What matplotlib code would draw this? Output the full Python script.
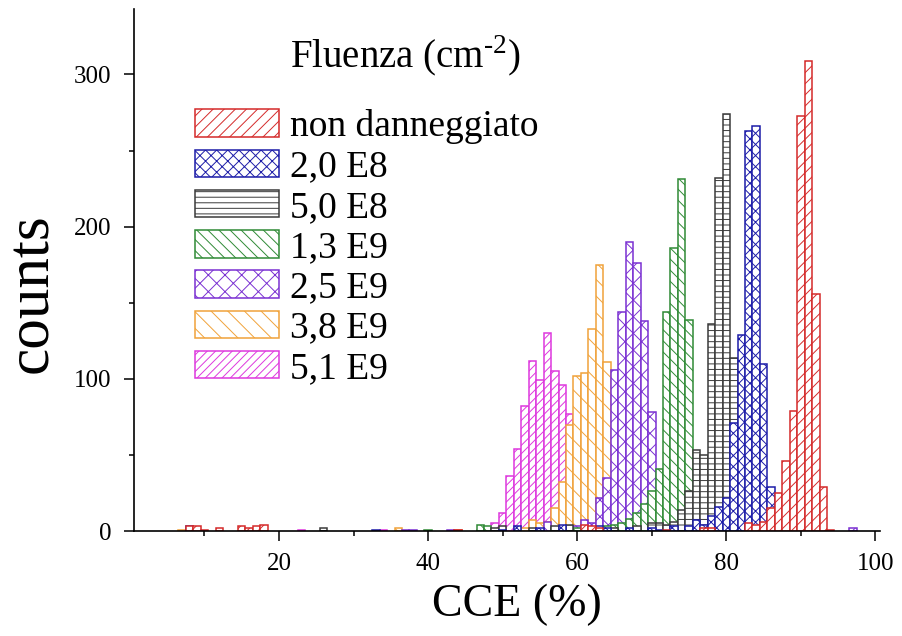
import matplotlib.pyplot as plt
from matplotlib.ticker import MultipleLocator

plt.rcParams['font.family'] = ['Liberation Serif', 'DejaVu Serif']
plt.rcParams['mathtext.fontset'] = 'custom'
plt.rcParams['mathtext.rm'] = 'Liberation Serif'
plt.rcParams['hatch.linewidth'] = 0.7

# conteggi per bin di 1% di CCE (centro bin -> conteggi)
non_danneggiato = {8: 3, 9: 3, 10: 1, 12: 2, 15: 3, 16: 2, 17: 3, 18: 4, 44: 1, 61: 4, 62: 3,
                   63: 2, 72: 1, 77: 2, 78: 2, 83: 5, 84: 4, 85: 6, 86: 15, 87: 25, 88: 46,
                   89: 79, 90: 273, 91: 309, 92: 156, 93: 29, 94: 1}
f_2_0e8 = {8: 3, 9: 1, 33: 1, 50: 1, 52: 3, 55: 2, 58: 4, 63: 3, 64: 2, 67: 2, 70: 2, 71: 1,
           73: 3, 75: 3, 76: 7, 77: 4, 78: 10, 79: 16, 80: 22, 81: 71, 82: 129, 83: 263,
           84: 266, 85: 110, 86: 29, 87: 3}
f_5_0e8 = {26: 2, 49: 2, 50: 3, 54: 2, 57: 3, 59: 4, 65: 2, 68: 3, 70: 5, 71: 5, 72: 4, 73: 6,
           74: 14, 75: 26, 76: 53, 77: 50, 78: 136, 79: 232, 80: 274, 81: 114, 82: 30, 83: 8,
           84: 2}
f_1_3e9 = {40: 1, 47: 4, 48: 3, 57: 2, 60: 2, 64: 3, 65: 4, 66: 5, 67: 8, 68: 12, 69: 18,
           70: 26, 71: 41, 72: 144, 73: 186, 74: 231, 75: 139, 76: 20, 77: 6, 78: 2}
f_2_5e9 = {37: 1, 38: 1, 43: 1, 56: 6, 58: 2, 60: 3, 61: 7, 62: 5, 63: 22, 64: 35, 65: 106,
           66: 144, 67: 190, 68: 176, 69: 138, 70: 78, 71: 3, 72: 4, 73: 3, 74: 1, 97: 2}
f_3_8e9 = {7: 1, 36: 2, 44: 1, 53: 2, 54: 7, 55: 5, 56: 6, 57: 15, 58: 32, 59: 70, 60: 102,
           61: 104, 62: 133, 63: 175, 64: 111, 65: 8, 66: 2}
f_5_1e9 = {23: 1, 34: 1, 44: 1, 47: 1, 48: 2, 49: 5, 50: 12, 51: 36, 52: 54, 53: 82, 54: 112,
           55: 99, 56: 130, 57: 105, 58: 96, 59: 77, 60: 30, 61: 6, 62: 2}

labels = ['non danneggiato', '2,0 E8', '5,0 E8', '1,3 E9', '2,5 E9', '3,8 E9', '5,1 E9']
series = [non_danneggiato, f_2_0e8, f_5_0e8, f_1_3e9, f_2_5e9, f_3_8e9, f_5_1e9]
colors = ['#d42a2a', '#1c1ca8', '#3a3a3a', '#2f8a35', '#7a30d2', '#f0a23a', '#de38de']
hatches = ['///', 'xxx', '---', '\\\\\\', 'xx', '\\\\', '////']

fig = plt.figure(figsize=(9.02, 6.36), dpi=100)
ax = fig.add_axes([0.149, 0.165, 0.8265, 0.8208])

# disegno dal 5,1 E9 al non danneggiato, cosi' le barre piu' recenti coprono le altre
handles = {}
for lab, d, c, h in reversed(list(zip(labels, series, colors, hatches))):
    bars = ax.bar(list(d.keys()), list(d.values()), width=1.0, facecolor='white',
                  edgecolor=c, hatch=h, linewidth=1.1, label=lab)
    handles[lab] = bars

ax.set_xlim(0.6, 100.6)
ax.set_ylim(0, 343)
ax.xaxis.set_major_locator(MultipleLocator(20))
ax.xaxis.set_minor_locator(MultipleLocator(10))
ax.yaxis.set_major_locator(MultipleLocator(100))
ax.yaxis.set_minor_locator(MultipleLocator(50))
ax.tick_params(which='major', direction='out', length=7.5, width=1.1, labelsize=18)
ax.tick_params(axis='x', which='major', pad=8)
ax.tick_params(axis='y', which='major', pad=9)
ax.tick_params(which='minor', direction='out', length=3.6, width=1.1)
for s in ['top', 'right']:
    ax.spines[s].set_visible(False)
for s in ['left', 'bottom']:
    ax.spines[s].set_linewidth(1.2)

ax.set_xlabel('CCE (%)', fontsize=33)
ax.xaxis.set_label_coords(0.513, -0.142)
ax.xaxis.label.set_va('center')
ax.set_ylabel('counts', fontsize=44)
ax.yaxis.set_label_coords(-0.1375, 0.455)
ax.yaxis.label.set_va('center')

ax.legend([handles[l] for l in labels], labels, loc='upper left',
          bbox_to_anchor=(0.081, 0.808), frameon=False, fontsize=27,
          handlelength=2.25, handleheight=0.75, handletextpad=0.3,
          labelspacing=0.145, borderpad=0, borderaxespad=0)
ax.text(0.209, 0.887, 'Fluenza (cm$^{\\text{-}2}$)', transform=ax.transAxes,
        fontsize=28, va='baseline', ha='left')

fig.savefig('out.png', dpi=100)
